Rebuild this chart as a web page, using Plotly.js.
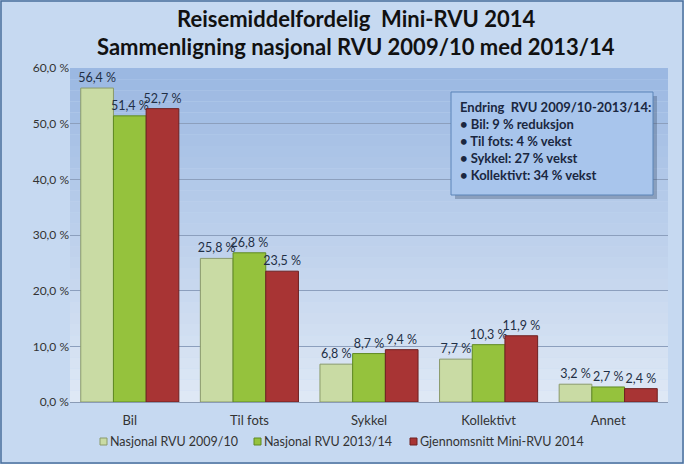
<!DOCTYPE html>
<html><head><meta charset="utf-8">
<script src="https://cdn.plot.ly/plotly-3.0.1.min.js"></script>
<style>html,body{margin:0;padding:0;background:#c6d9f1;}#chart{width:684px;height:464px;}</style>
</head><body><div id="chart"></div>
<script>
const categories = ["Bil", "Til fots", "Sykkel", "Kollektivt", "Annet"];
const seriesNames = ["Nasjonal RVU 2009/10", "Nasjonal RVU 2013/14", "Gjennomsnitt Mini-RVU 2014"];
const rvu0910 = [56.4, 25.8, 6.8, 7.7, 3.2];
const rvu1314 = [51.4, 26.8, 8.7, 10.3, 2.7];
const mini2014 = [52.7, 23.5, 9.4, 11.9, 2.4];
const titleLines = ["Reisemiddelfordelig  Mini-RVU 2014", "Sammenligning nasjonal RVU 2009/10 med 2013/14"];
const boxLines = ["Endring  RVU 2009/10-2013/14:", "• Bil: 9 % reduksjon", "• Til fots: 4 % vekst", "• Sykkel: 27 % vekst", "• Kollektivt: 34 % vekst"];

const colors = ["#c9dba4", "#95c23d", "#a83434"];
const lines = ["#8a9a6a", "#5f8a22", "#6e2020"];
const font = "Lato, 'Open Sans', sans-serif";

const traces = [rvu0910, rvu1314, mini2014].map((vals, i) => ({
  type: "bar", x: categories, y: vals, name: seriesNames[i],
  marker: {color: colors[i], line: {color: lines[i], width: 1}},
  texttemplate: "%{y:.1f} %", textposition: "outside", cliponaxis: false, constraintext: "none",
  textfont: {family: font, size: 12.5, color: "#1f2f45"},
  hoverinfo: "skip", showlegend: false
}));

// pixel helpers (plot area: x 70..668, y 68..402)
const px = x => (x - 70) / 598;
const py = y => (402 - y) / 334;

const shapes = [];
const N = 30;
for (let k = 0; k < N; k++) {
  const t = k / (N - 1);
  const c0 = [155, 184, 226], c1 = [222, 232, 245];
  const c = c0.map((v, j) => Math.round(v + (c1[j] - v) * t));
  shapes.push({type: "rect", xref: "x domain", yref: "y domain", layer: "below",
    x0: 0, x1: 1, y0: 1 - (k + 1) / N, y1: 1 - k / N,
    fillcolor: `rgb(${c[0]},${c[1]},${c[2]})`, line: {width: 0}});
}
shapes.push({type: "rect", xref: "paper", yref: "paper", x0: px(1), x1: px(683), y0: py(463), y1: py(1),
  line: {color: "#4a6f9c", width: 1.5}, fillcolor: "rgba(0,0,0,0)"});
shapes.push({type: "rect", xref: "paper", yref: "paper", x0: px(455), x1: px(657), y0: py(199), y1: py(96),
  line: {width: 0}, fillcolor: "rgba(60,80,110,0.35)"});
shapes.push({type: "rect", xref: "paper", yref: "paper", x0: px(451), x1: px(653), y0: py(195), y1: py(92),
  line: {color: "#5b84b8", width: 1}, fillcolor: "#a8c5ec"});

const annotations = [
  {xref: "paper", yref: "paper", x: px(458), y: py(97), xanchor: "left", yanchor: "top",
    align: "left", showarrow: false, text: boxLines.join("<br>"),
    font: {family: font, size: 13, color: "#1a2740", weight: "bold"}},
  {xref: "paper", yref: "paper", x: px(356), y: py(18), xanchor: "center", yanchor: "middle", showarrow: false,
    text: titleLines[0], font: {family: font, size: 22, color: "#111", weight: "bold"}},
  {xref: "paper", yref: "paper", x: px(356), y: py(46), xanchor: "center", yanchor: "middle", showarrow: false,
    text: titleLines[1], font: {family: font, size: 22, color: "#111", weight: "bold"}}
];
// custom legend
const legX = [100, 254, 410];
seriesNames.forEach((n, i) => {
  shapes.push({type: "rect", xref: "paper", yref: "paper", x0: px(legX[i]), x1: px(legX[i] + 7), y0: py(445), y1: py(438),
    fillcolor: colors[i], line: {color: lines[i], width: 1}});
  annotations.push({xref: "paper", yref: "paper", x: px(legX[i] + 8), y: py(441), xanchor: "left", yanchor: "middle",
    showarrow: false, text: n, font: {family: font, size: 12.5, color: "#333"}});
});

const layout = {
  width: 684, height: 464,
  paper_bgcolor: "#c6d9f1", plot_bgcolor: "rgba(0,0,0,0)",
  margin: {l: 70, r: 16, t: 68, b: 62, autoexpand: false},
  separators: ", ",
  showlegend: false,
  barmode: "group", bargap: 0.18, bargroupgap: 0,
  xaxis: {tickfont: {family: font, size: 13, color: "#333"}, showline: true, linecolor: "#8a9bb5", ticks: "",
    ticklabelstandoff: 6, fixedrange: true},
  yaxis: {range: [0, 60], dtick: 10, tickformat: ".1f", ticksuffix: " %", gridcolor: "#8c9fbd", gridwidth: 1,
    tickfont: {family: font, size: 12, color: "#333"}, zeroline: false, ticks: "", fixedrange: true},
  shapes: shapes,
  annotations: annotations
};
Plotly.newPlot("chart", traces, layout, {displayModeBar: false, staticPlot: true});
</script></body></html>
